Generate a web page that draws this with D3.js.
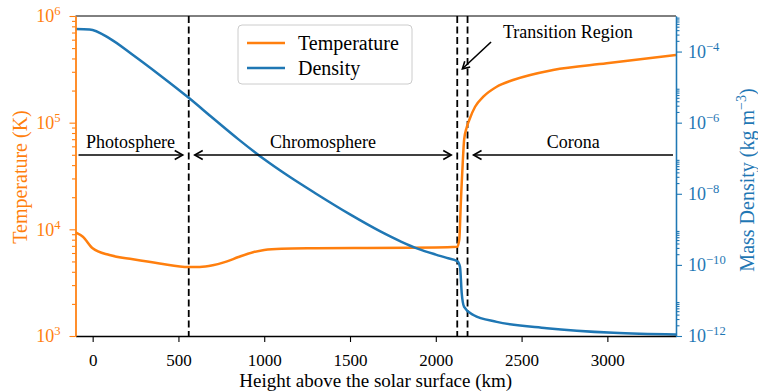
<!DOCTYPE html>
<html>
<head>
<meta charset="utf-8">
<script src="https://cdn.jsdelivr.net/npm/d3@7"></script>
<style>
body { margin: 0; background: #fff; }
svg text { font-family: "Liberation Serif", "DejaVu Serif", serif !important; }
</style>
</head>
<body>
<script>
// temperature profile (km, K)
var tempHeight = [-100, -57, 0, 98, 235, 390, 560, 624, 700, 779, 850, 935, 1000, 1100, 1300, 1600, 2000, 2125,
                  2137, 2142, 2145, 2150, 2157, 2165, 2180, 2195, 2229, 2277, 2355, 2450, 2683, 2996, 3400];
var tempValues = [9380, 8530, 6640, 5740, 5240, 4790, 4440, 4440, 4600, 4980, 5500, 6100, 6400, 6580, 6650, 6700, 6750, 6850,
                  8000, 12000, 16300, 25000, 42000, 68800, 90000, 106000, 141000, 175000, 217000, 251000, 312000, 360000, 430000];

// mass density profile (km, kg m^-3)
var densHeight = [-100, -18, 98, 235, 390, 560, 700, 850, 1000, 1150, 1300, 1500, 1674, 1800, 1898, 2000, 2064, 2126,
                  2141, 2151, 2165, 2219, 2355, 2647, 3036, 3400];
var densValues = [4.3e-4, 4.2e-4, 2.36e-4, 8.0e-5, 2.2e-5, 5.0e-6, 1.35e-6, 3.39e-7, 9.33e-8, 2.95e-8, 1.02e-8, 2.63e-9, 8.9e-10, 4.47e-10, 2.82e-10, 1.95e-10, 1.58e-10, 1.26e-10,
                  8.9e-11, 1.62e-11, 6.6e-12, 3.9e-12, 2.5e-12, 1.66e-12, 1.23e-12, 1.1e-12];

// region boundaries (km) and labels
var regionBounds = [560, 2125, 2185];
var regionNames = ["Photosphere", "Chromosphere", "Corona"];

// ticks
var xTicks = [0, 500, 1000, 1500, 2000, 2500, 3000];
var tempTicks = [1e3, 1e4, 1e5, 1e6];
var densTicks = [1e-12, 1e-10, 1e-8, 1e-6, 1e-4];

var orange = "#ff7f0e";
var blue = "#1f77b4";

//Set size and margins
var w = 758;
var h = 391;
var margin = {top: 16, right: 82, bottom: 55, left: 75.5};
var width = w - margin.left - margin.right;
var height = h - margin.top - margin.bottom;

//Scales
var x = d3.scaleLinear().domain([-100, 3400]).range([0, width]);
var yT = d3.scaleLog().domain([1e3, 1e6]).range([height, 0]);
var yD = d3.scaleLog().domain([1e-12, 1e-3]).range([height, 0]);

//minor ticks
var tempMinor = [];
[1e3, 1e4, 1e5].forEach(function(d) {
    for (var m = 2; m < 10; m++) tempMinor.push(m * d);
});
var densMinor = [];
densTicks.forEach(function(d) {
    for (var m = 2; m < 10; m++) densMinor.push(m * d);
});

var svg = d3.select("body").append("svg")
    .attr("width", w)
    .attr("height", h)
    .style("font-family", "'Liberation Serif', 'DejaVu Serif', serif");

var chart = svg.append("g")
    .attr("transform", "translate(" + margin.left + "," + margin.top + ")");

chart.append("clipPath").attr("id", "clip")
    .append("rect").attr("width", width).attr("height", height);

//superscript helper
function powLabel(sel, exp) {
    sel.text(null);
    sel.append("tspan").text("10");
    sel.append("tspan")
        .attr("font-size", "0.7em")
        .attr("dy", "-0.55em")
        .text(exp < 0 ? "\u2212" + (-exp) : exp);
}

//dashed region lines
chart.selectAll(".bound")
    .data(regionBounds)
    .enter().append("line")
    .attr("x1", function(d) { return x(d); })
    .attr("x2", function(d) { return x(d); })
    .attr("y1", 0)
    .attr("y2", height)
    .style("stroke", "black")
    .style("stroke-width", 1.8)
    .style("stroke-dasharray", "7,3.5");

//data lines
var tempLine = d3.line()
    .x(function(d, i) { return x(tempHeight[i]); })
    .y(function(d) { return yT(d); })
    .curve(d3.curveMonotoneX);

var densLine = d3.line()
    .x(function(d, i) { return x(densHeight[i]); })
    .y(function(d) { return yD(d); })
    .curve(d3.curveMonotoneX);

chart.append("path")
    .datum(tempValues)
    .attr("clip-path", "url(#clip)")
    .attr("d", tempLine)
    .style("fill", "none")
    .style("stroke", orange)
    .style("stroke-width", 2.5);

chart.append("path")
    .datum(densValues)
    .attr("clip-path", "url(#clip)")
    .attr("d", densLine)
    .style("fill", "none")
    .style("stroke", blue)
    .style("stroke-width", 2.5);

//region arrows
function arrowHead(g, tipX, y, dir) {
    g.append("path")
        .attr("d", "M" + (tipX - dir * 8) + "," + (y - 4.5) + "L" + tipX + "," + y + "L" + (tipX - dir * 8) + "," + (y + 4.5))
        .style("fill", "none")
        .style("stroke", "black")
        .style("stroke-width", 1.6);
}

var arrowY = 139;
var edges = [x.domain()[0], regionBounds[0], regionBounds[0], regionBounds[1], regionBounds[2], x.domain()[1]];
var arrows = chart.append("g");
regionNames.forEach(function(name, i) {
    var a = edges[i * 2], b = edges[i * 2 + 1];
    var x1 = x(a) + (i === 0 ? 3 : 6);
    var x2 = x(b) - (i === 2 ? 3 : 6);
    arrows.append("line")
        .attr("x1", x1).attr("x2", x2)
        .attr("y1", arrowY).attr("y2", arrowY)
        .style("stroke", "black")
        .style("stroke-width", 1.6);
    if (i > 0) arrowHead(arrows, x1, arrowY, -1);
    if (i < 2) arrowHead(arrows, x2, arrowY, 1);
    arrows.append("text")
        .attr("x", (x1 + x2) / 2)
        .attr("y", arrowY - 7)
        .attr("text-anchor", "middle")
        .style("font-size", "18px")
        .text(name);
});

//transition region annotation
var trTip = [2155, 3.2e5];
var trStart = [2322, 5.7e5];
chart.append("line")
    .attr("x1", x(trStart[0])).attr("y1", yT(trStart[1]))
    .attr("x2", x(trTip[0])).attr("y2", yT(trTip[1]))
    .style("stroke", "black")
    .style("stroke-width", 1.6);
(function() {
    var tx = x(trTip[0]), ty = yT(trTip[1]);
    var ang = Math.atan2(yT(trStart[1]) - ty, x(trStart[0]) - tx);
    var p1 = [tx + 8 * Math.cos(ang + 0.52), ty + 8 * Math.sin(ang + 0.52)];
    var p2 = [tx + 8 * Math.cos(ang - 0.52), ty + 8 * Math.sin(ang - 0.52)];
    chart.append("path")
        .attr("d", "M" + p1 + "L" + tx + "," + ty + "L" + p2)
        .style("fill", "none")
        .style("stroke", "black")
        .style("stroke-width", 1.6);
})();
chart.append("text")
    .attr("x", x(2770))
    .attr("y", yT(7.1e5))
    .attr("dy", "0.35em")
    .attr("text-anchor", "middle")
    .style("font-size", "18px")
    .text("Transition Region");

//Axes
var xAxis = d3.axisBottom(x).tickValues(xTicks).tickFormat(d3.format("d")).tickSize(6).tickSizeOuter(0);
var gx = chart.append("g")
    .attr("transform", "translate(0," + height + ")")
    .call(xAxis);
gx.selectAll("text").attr("y", 30).attr("dy", 0)
    .style("font-size", "17px").style("fill", "black");

//top spine
chart.append("line")
    .attr("x1", 0).attr("x2", width)
    .attr("y1", 0).attr("y2", 0)
    .style("stroke", "black");

var gl = chart.append("g")
    .call(d3.axisLeft(yT).tickValues(tempTicks).tickSize(6).tickPadding(9).tickSizeOuter(0));
gl.selectAll("text").each(function(d) { powLabel(d3.select(this), Math.round(Math.log10(d))); })
    .style("font-size", "18px").style("fill", orange);
var glm = chart.append("g")
    .call(d3.axisLeft(yT).tickValues(tempMinor).tickSize(3.5).tickFormat("").tickSizeOuter(0));
gl.selectAll("path.domain, .tick line").style("stroke", orange);
glm.selectAll("path.domain, .tick line").style("stroke", orange);

var gr = chart.append("g")
    .attr("transform", "translate(" + width + ",0)")
    .call(d3.axisRight(yD).tickValues(densTicks).tickSize(6).tickPadding(6).tickSizeOuter(0));
gr.selectAll("text").each(function(d) { powLabel(d3.select(this), Math.round(Math.log10(d))); })
    .style("font-size", "18px").style("fill", blue);
var grm = chart.append("g")
    .attr("transform", "translate(" + width + ",0)")
    .call(d3.axisRight(yD).tickValues(densMinor).tickSize(3.5).tickFormat("").tickSizeOuter(0));
gr.selectAll("path.domain, .tick line").style("stroke", blue);
grm.selectAll("path.domain, .tick line").style("stroke", blue);

chart.selectAll("path.domain").style("stroke-width", 1.3);
chart.selectAll(".tick line").style("stroke-width", 1.1);

//Axis labels
chart.append("text")
    .attr("x", width / 2)
    .attr("y", height + 50.8)
    .attr("text-anchor", "middle")
    .style("font-size", "19px")
    .text("Height above the solar surface (km)");

chart.append("text")
    .attr("transform", "translate(" + (-49) + "," + (height / 2 + 1) + ") rotate(-90)")
    .attr("text-anchor", "middle")
    .style("font-size", "20px")
    .style("fill", orange)
    .text("Temperature (K)");

var rl = chart.append("text")
    .attr("transform", "translate(" + (width + 78) + "," + (height / 2 + 4) + ") rotate(-90)")
    .attr("text-anchor", "middle")
    .style("font-size", "20px")
    .style("fill", blue);
rl.append("tspan").text("Mass Density (kg m");
rl.append("tspan").attr("font-size", "0.7em").attr("dy", "-0.55em").text("\u22123");
rl.append("tspan").attr("dy", "0.385em").text(")");

//Legend
var legend = chart.append("g")
    .attr("transform", "translate(" + (238 - margin.left) + "," + (25 - margin.top) + ")");
legend.append("rect")
    .attr("width", 174).attr("height", 59)
    .attr("rx", 4)
    .style("fill", "white").style("fill-opacity", 0.8)
    .style("stroke", "#cccccc");
var legendNames = ["Temperature", "Density"];
var legendColors = [orange, blue];
legendNames.forEach(function(name, i) {
    var ly = 18 + i * 25;
    legend.append("line")
        .attr("x1", 9).attr("x2", 47)
        .attr("y1", ly).attr("y2", ly)
        .style("stroke", legendColors[i])
        .style("stroke-width", 2.5);
    legend.append("text")
        .attr("x", 60).attr("y", ly)
        .attr("dy", "0.35em")
        .style("font-size", "20px")
        .text(name);
});
</script>
</body>
</html>
